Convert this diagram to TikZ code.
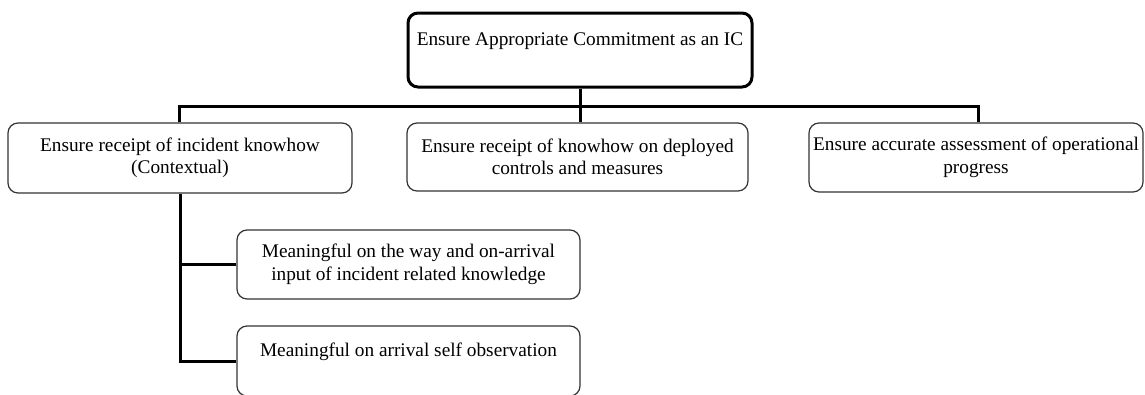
\documentclass[tikz,border=0pt]{standalone}
\usepackage{fontspec}
\setmainfont{Liberation Serif}
\begin{document}
\begin{tikzpicture}[x=1pt,y=-1pt,
  box/.style={draw=black!80, line width=1.2pt, rounded corners=10pt, rectangle,
    align=center, inner sep=0pt, font=\fontsize{19.3}{22.5}\selectfont},
  topbox/.style={box, draw=black, line width=3pt},
  conn/.style={draw=black, line width=3pt, line join=miter}]
\useasboundingbox (0,0) rectangle (1145,394);
\node[topbox, minimum width=344pt, minimum height=74pt] (top) at (580,50)
  {Ensure Appropriate Commitment as an IC\\\mbox{}};
\node[box, minimum width=344pt, minimum height=70pt] (b1) at (180,158)
  {Ensure receipt of incident knowhow\\(Contextual)};
\node[box, minimum width=341pt, minimum height=68pt] (b2) at (577.5,157)
  {Ensure receipt of knowhow on deployed\\controls and measures};
\node[box, minimum width=334pt, minimum height=69pt] (b3) at (976,157.5)
  {Ensure accurate assessment of operational\\progress};
\node[box, minimum width=343pt, minimum height=69pt] (b4) at (408.5,264.5)
  {Meaningful on the way and on-arrival\\input of incident related knowledge};
\node[box, minimum width=343pt, minimum height=70pt] (b5) at (408.5,361)
  {Meaningful on arrival self observation\\\mbox{}};
\coordinate (hl) at (179,106);
\coordinate (hr) at (978,106);
\draw[conn] (top.south) -- (top.south |- b2.north);
\draw[conn] (b1.north -| hl) -- (hl) -- (hr) -- (b3.north -| hr);
\draw[conn] (b1.south) -- (b1.south |- b5.west) -- (b5.west);
\draw[conn] (b1.south |- b4.west) -- (b4.west);
\end{tikzpicture}
\end{document}
